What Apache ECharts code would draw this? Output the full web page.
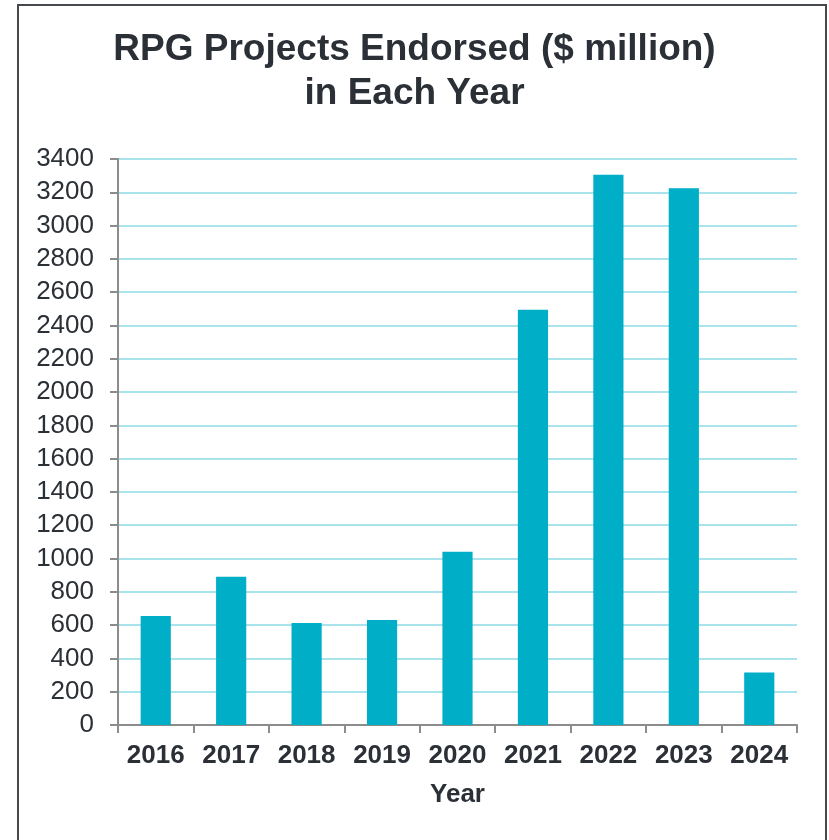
<!DOCTYPE html>
<html>
<head>
<meta charset="utf-8">
<script src="https://cdn.jsdelivr.net/npm/echarts@6/dist/echarts.min.js"></script>
<style>
  html, body { margin: 0; padding: 0; background: #ffffff; }
  #chart { width: 829px; height: 840px; }
</style>
</head>
<body>
<div id="chart"></div>
<script>
// Years on the category axis
const years = ['2016', '2017', '2018', '2019', '2020', '2021', '2022', '2023', '2024'];
// Value of RPG projects endorsed per year ($ million)
const endorsed = [655, 890, 612, 630, 1040, 2495, 3305, 3225, 315];

const textColor = '#2b3036';
const fontFamily = '"Liberation Sans", Arial, Helvetica, sans-serif';

const chart = echarts.init(document.getElementById('chart'), null, { renderer: 'canvas' });

chart.setOption({
  backgroundColor: '#ffffff',
  animation: false,
  title: {
    text: 'RPG Projects Endorsed ($ million)\nin Each Year',
    left: 'center',
    top: 23,
    textStyle: {
      fontFamily: fontFamily,
      fontSize: 37,
      fontWeight: 'bold',
      color: textColor,
      lineHeight: 44
    }
  },
  graphic: [{
    type: 'rect',
    shape: { x: 18, y: 5, width: 808, height: 860 },
    style: { fill: 'none', stroke: '#45494d', lineWidth: 2 },
    silent: true
  }],
  grid: {
    left: 118,
    right: 32,
    top: 159,
    bottom: 115,
    containLabel: false
  },
  xAxis: {
    type: 'category',
    data: years,
    name: 'Year',
    nameLocation: 'middle',
    nameGap: 57,
    nameTextStyle: {
      fontFamily: fontFamily,
      fontSize: 26,
      fontWeight: 'bold',
      color: textColor
    },
    axisLine: { show: true, lineStyle: { color: '#8c8c8c', width: 2 } },
    axisTick: { show: true, alignWithLabel: false, length: 8, lineStyle: { color: '#8c8c8c', width: 2 } },
    axisLabel: {
      margin: 18,
      fontFamily: fontFamily,
      fontSize: 26,
      fontWeight: 'bold',
      color: textColor,
      interval: 0
    },
    splitLine: { show: false }
  },
  yAxis: {
    type: 'value',
    min: 0,
    max: 3400,
    interval: 200,
    axisLine: { show: true, lineStyle: { color: '#8c8c8c', width: 2 } },
    axisTick: { show: true, length: 8, lineStyle: { color: '#8c8c8c', width: 2 } },
    axisLabel: {
      margin: 24,
      fontFamily: fontFamily,
      fontSize: 26,
      color: textColor,
      formatter: (v) => String(v)
    },
    splitLine: { show: true, lineStyle: { color: '#a9e3ec', width: 2 } }
  },
  series: [{
    type: 'bar',
    data: endorsed,
    barWidth: '40%',
    itemStyle: { color: '#00aec8' }
  }]
});
</script>
</body>
</html>
